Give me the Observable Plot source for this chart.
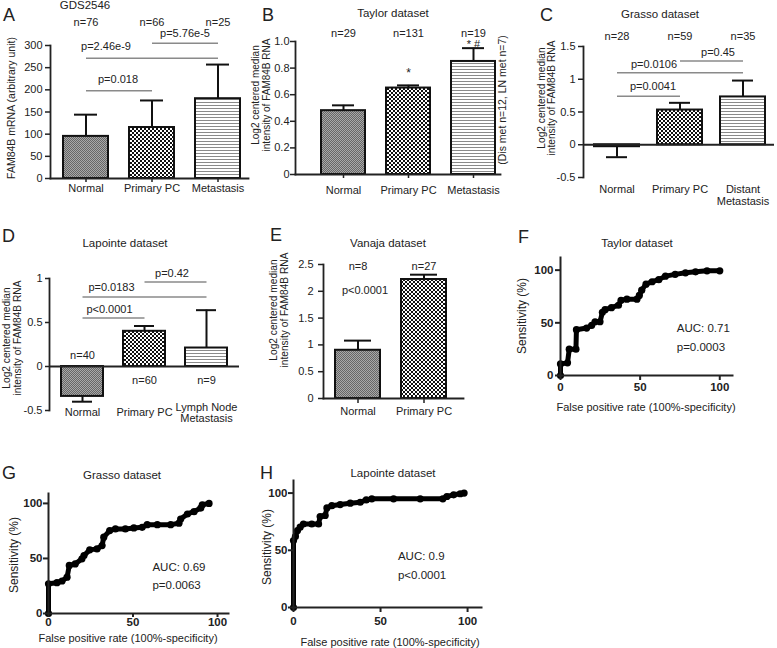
<!DOCTYPE html>
<html><head><meta charset="utf-8">
<script src="https://cdn.jsdelivr.net/npm/d3@7"></script>
<script src="https://cdn.jsdelivr.net/npm/@observablehq/plot@0.6"></script>
<style>
body{margin:0;background:#fff;}
#fig{position:relative;width:777px;height:648px;overflow:hidden;font-family:"Liberation Sans",Arial,Helvetica,sans-serif;color:#222;background:#fff;}
</style></head><body>
<svg width="0" height="0" style="position:absolute">
<defs>
<pattern id="pNormal" width="2" height="2" patternUnits="userSpaceOnUse"><rect width="2" height="2" fill="#a8a8a8"/><rect width="1" height="1" fill="#666"/><rect x="1" y="1" width="1" height="1" fill="#666"/></pattern>
<pattern id="pPrimary" width="4" height="4" patternUnits="userSpaceOnUse"><rect width="4" height="4" fill="#fff"/><rect width="2" height="2" fill="#111"/><rect x="2" y="2" width="2" height="2" fill="#111"/></pattern>
<pattern id="pMet" width="3" height="3" patternUnits="userSpaceOnUse"><rect width="3" height="3" fill="#fff"/><rect width="3" height="1" fill="#8a8a8a"/></pattern>
</defs></svg>
<div id="fig"></div>
<script>
// ---------------- DATA ----------------
// Panel A – GDS2546
const aCats = ["Normal", "Primary PC", "Metastasis"];
const aMean = [95, 115, 180];
const aUpper = [144, 176, 257];
const aN = ["n=76", "n=66", "n=25"];
const aCmpFrom = ["Normal", "Normal", "Primary PC"];
const aCmpTo = ["Primary PC", "Metastasis", "Metastasis"];
const aCmpLevel = [198, 271, 305];
const aCmpText = ["p=0.018", "p=2.46e-9", "p=5.76e-5"];
const aTicks = [0, 50, 100, 150, 200, 250, 300];

// Panel B – Taylor
const bCats = ["Normal", "Primary PC", "Metastasis"];
const bMean = [0.48, 0.65, 0.85];
const bUpper = [0.52, 0.67, 0.95];
const bN = ["n=29", "n=131", "n=19"];
const bSig = ["", "*", "* #"];
const bTicks = [0, 0.2, 0.4, 0.6, 0.8, 1.0];

// Panel C – Grasso
const cCats = ["Normal", "Primary PC", "Distant\nMetastasis"];
const cMean = [-0.03, 0.53, 0.73];
const cErrEnd = [-0.19, 0.64, 0.98];
const cN = ["n=28", "n=59", "n=35"];
const cCmpFrom = ["Normal", "Normal", "Primary PC"];
const cCmpTo = ["Primary PC", "Distant\nMetastasis", "Distant\nMetastasis"];
const cCmpLevel = [0.74, 1.10, 1.28];
const cCmpText = ["p=0.0041", "p=0.0106", "p=0.45"];
const cTicks = [-0.5, 0, 0.5, 1, 1.5];

// Panel D – Lapointe
const dCats = ["Normal", "Primary PC", "Lymph Node\nMetastasis"];
const dMean = [-0.34, 0.40, 0.21];
const dErrEnd = [-0.40, 0.46, 0.64];
const dN = ["n=40", "n=60", "n=9"];
const dCmpFrom = ["Normal", "Normal", "Primary PC"];
const dCmpTo = ["Primary PC", "Lymph Node\nMetastasis", "Lymph Node\nMetastasis"];
const dCmpLevel = [0.55, 0.79, 0.96];
const dCmpText = ["p<0.0001", "p=0.0183", "p=0.42"];
const dTicks = [-0.5, 0, 0.5, 1];

// Panel E – Vanaja
const eCats = ["Normal", "Primary PC"];
const eMean = [0.90, 2.22];
const eUpper = [1.08, 2.31];
const eN = ["n=8", "n=27"];
const eP = "p<0.0001";
const eTicks = [0, 0.5, 1, 1.5, 2, 2.5];

// ROC panels (false positive rate %, sensitivity %)
const rocTicks = [0, 50, 100];
const fFpr  = [0, 0, 4.4, 5.5, 9.7, 10, 16.4, 19.6, 21.7, 24.8, 26.3, 28, 32, 36.4, 38, 41.7, 48, 49.5, 51, 53.7, 57.5, 61.7, 65.9, 72, 78.5, 84.8, 92, 100];
const fSens = [0, 11, 12, 25, 25, 43.5, 45, 47.6, 51, 51, 60, 62.5, 64.4, 66.7, 71.4, 72.4, 72.4, 76, 81, 86.7, 89, 91, 94.3, 96, 97.5, 98.4, 99.4, 99.4];
const fStats = ["AUC: 0.71", "p=0.0003"];

const gFpr  = [0, 0, 5, 8, 11, 12.3, 15.8, 19.8, 21, 24.4, 28.7, 31.7, 32.7, 36.2, 39.6, 45.5, 50.5, 55.4, 58.4, 64.4, 72.3, 77.2, 78.2, 82.2, 86.1, 90.1, 91, 95];
const gSens = [0, 27, 28, 29.5, 33, 43.7, 45, 49.7, 52.7, 57.8, 58.7, 61.7, 69.3, 75.3, 76.8, 76.8, 77.7, 78.3, 80.7, 80.7, 80.7, 82, 85.8, 90.4, 92.5, 95.8, 98.8, 100];
const gStats = ["AUC: 0.69", "p=0.0063"];

const hFpr  = [0, 0, 1.1, 2.3, 3.8, 5.7, 10.5, 14.4, 15.3, 18.2, 19.2, 22, 26.8, 32.6, 38.3, 41.8, 45, 57.5, 72.8, 85.8, 88.1, 92, 95.8, 98];
const hSens = [0, 58.5, 62, 67.3, 70.2, 73, 73, 73, 79.5, 80.4, 87, 89, 90, 91.2, 92, 94, 95, 95, 95, 95, 97, 98.5, 99.4, 100];
const hStats = ["AUC: 0.9", "p<0.0001"];

// Text
const panelLetters = ["A", "B", "C", "D", "E", "F", "G", "H"];
const datasetTitles = ["GDS2546", "Taylor dataset", "Grasso dataset", "Lapointe dataset", "Vanaja dataset", "Taylor dataset", "Grasso dataset", "Lapointe dataset"];
const yTitleA = "FAM84B mRNA (arbitrary unit)";
const yTitleLog = "Log2 centered median\nintensity of FAM84B RNA";
const bNote = "(Dis met n=12, LN met n=7)";
const rocXTitle = "False positive rate (100%-specificity)";
const rocYTitle = "Sensitivity (%)";

// ---------------- DRAWING ----------------
const fig = document.getElementById("fig");
const FONT = '"Liberation Sans", Arial, Helvetica, sans-serif';
const STYLE = `font-family:${FONT};font-size:11px;color:#222;background:transparent;overflow:visible;max-width:none;`;
const fills = {"Normal": "url(#pNormal)", "Primary PC": "url(#pPrimary)"};
const fillOf = c => fills[c] || "url(#pMet)";

function place(svg, left, top) {
  svg.style.position = "absolute";
  svg.style.left = left + "px";
  svg.style.top = top + "px";
  fig.appendChild(svg);
}
function label(txt, x, y, opt = {}) {
  const el = document.createElement("div");
  el.textContent = txt;
  const tr = opt.left ? "translate(0,-50%)" : "translate(-50%,-50%)";
  el.style.cssText = `position:absolute;left:${x}px;top:${y}px;white-space:pre;text-align:center;` +
    `font-size:${opt.size || 11}px;line-height:${opt.lh || 1.1};color:#222;` +
    `transform:${tr}${opt.rot ? " rotate(-90deg)" : ""};`;
  fig.appendChild(el);
}
const rows = (cats, mean, end, n) => cats.map((c, i) => ({cat: c, mean: mean[i], end: end[i], n: n[i]}));
const cmpRows = (from, to, level, text) => from.map((f, i) => ({from: f, to: to[i], level: level[i], text: text[i]}));

function barMarks(data, capInset) {
  return [
    Plot.barY(data, {x: "cat", y: "mean", fill: d => fillOf(d.cat), stroke: "#111", strokeWidth: 2}),
    Plot.ruleX(data, {x: "cat", y1: "mean", y2: "end", stroke: "#111", strokeWidth: 2}),
    Plot.tickY(data, {x: "cat", y: "end", stroke: "#111", strokeWidth: 2, insetLeft: capInset, insetRight: capInset})
  ];
}
function cmpMarks(cmp, dxs, dys) {
  return [
    Plot.link(cmp, {x1: "from", x2: "to", y1: "level", y2: "level", stroke: "#8a8a8a", strokeWidth: 1.5}),
    ...cmp.map((c, i) => Plot.text([c], {x: "from", y: "level", text: "text", dx: dxs[i], dy: dys[i]}))
  ];
}

// ---- Panel A ----
const aRows = rows(aCats, aMean, aUpper, aN);
place(Plot.plot({
  width: 255, height: 205, marginLeft: 50, marginRight: 7, marginTop: 45, marginBottom: 27,
  style: STYLE,
  x: {domain: aCats, paddingInner: 0.323, paddingOuter: 0.15, align: 0.6},
  y: {domain: [0, 300]},
  color: {type: "identity"},
  marks: [
    ...barMarks(aRows, 11),
    ...cmpMarks(cmpRows(aCmpFrom, aCmpTo, aCmpLevel, aCmpText), [32, 20, 33], [-11, -12, -10]),
    Plot.text(aRows, {x: "cat", text: "n", frameAnchor: "top", dy: -27}),
    Plot.axisY({ticks: aTicks, tickSize: 5, tickPadding: 3, strokeWidth: 1.5, label: null}),
    Plot.axisX({tickSize: 4, tickPadding: 2, strokeWidth: 1.5, label: null}),
    Plot.frame({anchor: "left", strokeWidth: 1.8}),
    Plot.frame({anchor: "bottom", strokeWidth: 1.8})
  ]
}), 0, 0);

// ---- Panel B ----
const bRows = rows(bCats, bMean, bUpper, bN).map((d, i) => ({...d, sig: bSig[i]}));
place(Plot.plot({
  width: 260, height: 205, marginLeft: 40, marginRight: 15, marginTop: 41, marginBottom: 31,
  style: STYLE,
  x: {domain: bCats, paddingInner: 0.323, paddingOuter: 0.238, align: 0.84},
  y: {domain: [0, 1]},
  color: {type: "identity"},
  marks: [
    ...barMarks(bRows, 11),
    Plot.text(bRows.filter(d => d.sig === "*"), {x: "cat", y: "end", text: "sig", dy: -12, fontSize: 12}),
    Plot.text(bRows.filter(d => d.sig === "* #"), {x: "cat", y: "end", text: "sig", dy: -3.5, fontSize: 11}),
    Plot.text(bRows, {x: "cat", text: "n", frameAnchor: "top", dy: -12}),
    Plot.axisY({ticks: bTicks, tickFormat: d => d === 0 ? "0" : d.toFixed(1), tickSize: 5, tickPadding: 1, strokeWidth: 1.5, label: null}),
    Plot.axisX({tickSize: 4, tickPadding: 8, strokeWidth: 1.5, label: null}),
    Plot.frame({anchor: "left", strokeWidth: 1.8}),
    Plot.frame({anchor: "bottom", strokeWidth: 1.8})
  ]
}), 255, 0);

// ---- Panel C ----
const cRows = rows(cCats, cMean, cErrEnd, cN);
place(Plot.plot({
  width: 262, height: 215, marginLeft: 68, marginRight: 3, marginTop: 46, marginBottom: 38,
  style: STYLE,
  x: {domain: cCats, paddingInner: 0.291, paddingOuter: 0.15, align: 0.53},
  y: {domain: [-0.5, 1.5]},
  color: {type: "identity"},
  marks: [
    ...barMarks(cRows, 12),
    ...cmpMarks(cmpRows(cCmpFrom, cCmpTo, cCmpLevel, cCmpText), [36, 37, 38], [-10, -8, -8]),
    Plot.text(cRows, {x: "cat", text: "n", frameAnchor: "top", dy: -14}),
    Plot.ruleY([0], {strokeWidth: 1.8}),
    Plot.axisY({ticks: cTicks, tickFormat: d => String(d), tickSize: 5, tickPadding: 3, strokeWidth: 1.5, label: null}),
    Plot.axisX({tickSize: 0, tickPadding: 7, lineHeight: 1.1, label: null}),
    Plot.frame({anchor: "left", strokeWidth: 1.8})
  ]
}), 515, 0);

// ---- Panel D ----
const dRows = rows(dCats, dMean, dErrEnd, dN);
place(Plot.plot({
  width: 250, height: 220, marginLeft: 49, marginRight: 11, marginTop: 63, marginBottom: 25,
  style: STYLE,
  x: {domain: dCats, paddingInner: 0.325, paddingOuter: 0.171, align: 0.51},
  y: {domain: [-0.5, 1]},
  color: {type: "identity"},
  marks: [
    ...barMarks(dRows, 11),
    ...cmpMarks(cmpRows(dCmpFrom, dCmpTo, dCmpLevel, dCmpText), [27, 29, 27.5], [-9, -10, -9]),
    Plot.text(dRows.filter(d => d.mean < 0), {x: "cat", y: 0, text: "n", dy: -11}),
    Plot.text(dRows.filter(d => d.mean >= 0), {x: "cat", y: 0, text: "n", dy: 14}),
    Plot.ruleY([0], {strokeWidth: 1.8}),
    Plot.axisY({ticks: dTicks, tickFormat: d => String(d), tickSize: 4, tickPadding: 3, strokeWidth: 1.5, label: null}),
    Plot.axisX({tickSize: 0, tickPadding: 2, lineAnchor: "middle", lineHeight: 1.0, label: null}),
    Plot.frame({anchor: "left", strokeWidth: 1.8})
  ]
}), 0, 215);

// ---- Panel E ----
const eRows = rows(eCats, eMean, eUpper, eN);
place(Plot.plot({
  width: 260, height: 215, marginLeft: 68, marginRight: 52, marginTop: 49, marginBottom: 32,
  style: STYLE,
  x: {domain: eCats, paddingInner: 0.316, paddingOuter: 0.21, align: 0.43},
  y: {domain: [0, 2.5]},
  color: {type: "identity"},
  marks: [
    ...barMarks(eRows, 9),
    Plot.text(eRows, {x: "cat", text: "n", frameAnchor: "top", dy: -2}),
    Plot.text([eP], {x: () => eCats[0], y: () => 2.01, text: d => d, dx: 7}),
    Plot.axisY({ticks: eTicks, tickFormat: d => String(d), tickSize: 5, tickPadding: 5, strokeWidth: 1.5, label: null}),
    Plot.axisX({tickSize: 5, tickPadding: 4, strokeWidth: 1.5, label: null}),
    Plot.frame({anchor: "left", strokeWidth: 1.8}),
    Plot.frame({anchor: "bottom", strokeWidth: 1.8})
  ]
}), 255, 215);

// ---- ROC panels ----
function roc(fpr, sens, stats, o) {
  const pts = fpr.map((x, i) => ({fpr: x, sens: sens[i]}));
  const st = [{t: stats[0], y: o.aucY}, {t: stats[1], y: o.pY}];
  return Plot.plot({
    width: o.width, height: o.height, marginLeft: o.ml, marginRight: o.mr, marginTop: o.mt, marginBottom: o.mb,
    style: STYLE,
    x: {domain: [0, o.xMax]},
    y: {domain: [0, o.yMax]},
    marks: [
      Plot.line(pts, {x: "fpr", y: "sens", stroke: "#000", strokeWidth: 5}),
      Plot.dot(pts, {x: "fpr", y: "sens", r: 3.6, fill: "#000"}),
      Plot.text(st, {x: () => o.aucX, y: "y", text: "t", textAnchor: "start", fontSize: 11.5}),
      Plot.axisX({ticks: rocTicks, tickSize: o.tsX, tickPadding: o.padX, fontWeight: "bold", fontSize: 11.5, strokeWidth: 2, label: null}),
      Plot.axisY({ticks: rocTicks, tickSize: 5, tickPadding: o.padY, fontWeight: "bold", fontSize: 11.5, strokeWidth: 2, label: null}),
      Plot.frame({anchor: "left", strokeWidth: 2}),
      Plot.frame({anchor: "bottom", strokeWidth: 2})
    ]
  });
}
place(roc(fFpr, fSens, fStats, {width: 262, height: 200, ml: 45, mr: 45, mt: 32, mb: 50, xMax: 108, yMax: 112, aucX: 73, aucY: 45, pY: 27, tsX: 5, padX: 2, padY: 2}), 515, 225);
place(roc(gFpr, gSens, gStats, {width: 255, height: 208, ml: 48, mr: 27, mt: 53, mb: 35, xMax: 106.5, yMax: 109, aucX: 61.5, aucY: 42, pY: 25.5, tsX: 4, padX: 0, padY: 1}), 0, 440);
place(roc(hFpr, hSens, hStats, {width: 240, height: 208, ml: 33, mr: 19, mt: 40, mb: 41, xMax: 108, yMax: 111, aucX: 60, aucY: 45, pY: 28, tsX: 5, padX: 4, padY: 1}), 260, 440);

// ---- HTML text: letters, titles, axis titles ----
const letterPos = [[3, 15], [262, 15], [540, 15], [2, 236], [270, 235], [518, 237], [2, 473], [260, 473]];
panelLetters.forEach((t, i) => label(t, letterPos[i][0], letterPos[i][1], {size: 18, left: true, lh: 1}));
const titlePos = [[85, 5], [393, 13], [660, 14], [125, 243], [388, 243], [637, 243], [122, 475], [393, 473]];
datasetTitles.forEach((t, i) => label(t, titlePos[i][0], titlePos[i][1], {size: 11.5}));

label(yTitleA, 12, 108, {size: 10.5, rot: true});
label(yTitleLog, 261, 95, {size: 10, rot: true, lh: 1.05});
label(yTitleLog, 547, 98, {size: 10.2, rot: true, lh: 1.0});
label(yTitleLog, 12, 338, {size: 10.2, rot: true, lh: 1.1});
label(yTitleLog, 279, 310, {size: 10.2, rot: true, lh: 1.1});
label(bNote, 503, 100, {size: 10.5, rot: true});

label(rocYTitle, 523, 316, {size: 12, rot: true});
label(rocYTitle, 15, 555, {size: 12, rot: true});
label(rocYTitle, 268, 547, {size: 12, rot: true});
label(rocXTitle, 646, 407, {size: 11});
label(rocXTitle, 128, 638, {size: 11});
label(rocXTitle, 390, 642, {size: 11});
</script>
</body></html>
